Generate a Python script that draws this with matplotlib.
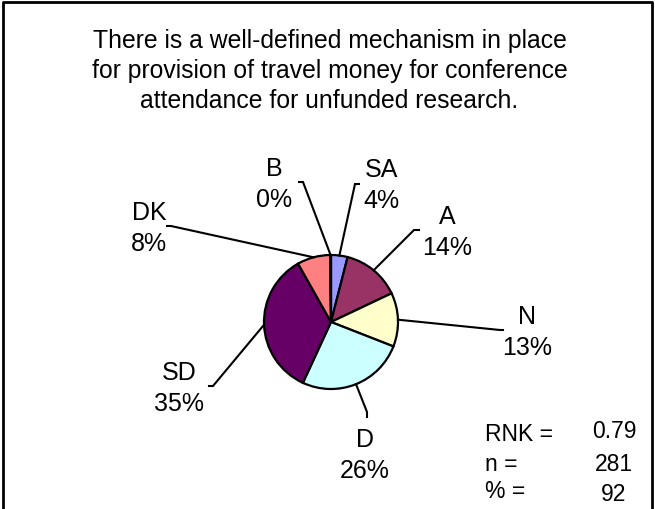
import numpy as np
import matplotlib
matplotlib.use('Agg')
import matplotlib.pyplot as plt
from matplotlib.lines import Line2D

# survey answers, clockwise from 12 o'clock
categories = ["SA", "A", "N", "D", "SD", "DK", "B"]
shares = [4, 14, 13, 26, 35, 8, 0.2]
colors = ["#9999FF", "#993366", "#FFFFCC", "#CCFFFF", "#660066", "#FF8080", "#0066CC"]

title_lines = ["There is a well-defined mechanism in place",
               "for provision of travel money for conference",
               "attendance for unfunded research."]
stat_names = ["RNK =", "n =", "% ="]
stat_values = ["0.79", "281", "92"]

W, H = 655, 510
plt.rcParams['font.family'] = ['Liberation Sans', 'DejaVu Sans']

fig = plt.figure(figsize=(W / 100, H / 100), dpi=100)
ax = fig.add_axes([0, 0, 1, 1])


def Y(y):
    # image row -> axis y
    return H - y


cx, cy, r = 331, 323, 67
wedges, _ = ax.pie(shares, colors=colors, startangle=90, counterclock=False,
                   center=(cx, Y(cy)), radius=r, frame=True,
                   wedgeprops=dict(edgecolor='black', linewidth=1.6))
ax.set_xlim(0, W)
ax.set_ylim(0, H)
ax.set_aspect('equal')
ax.axis('off')

# label layout: (text x, first line y, elbow x, elbow y, tick dx, tick dy)
layout = {
    "SA": (381, 170, 355, 185, 4, 0),
    "A":  (447, 217, 414, 231, 5, 0),
    "N":  (527, 317, 500, 331, 3, 0),
    "D":  (365, 440, 367, 413, 0, 5),
    "SD": (179, 373, 213, 387, -4, 0),
    "DK": (149, 213, 171, 227, -4, 0),
    "B":  (274, 169, 303, 183, -4, 0),
}
total = sum(shares)
for w, name, val in zip(wedges, categories, shares):
    tx, ty, ex, ey, dx, dy = layout[name]
    mid = np.deg2rad((w.theta1 + w.theta2) / 2)
    px = cx + r * np.cos(mid)
    py = Y(cy) + r * np.sin(mid)
    ax.add_line(Line2D([px, ex, ex + dx], [py, Y(ey), Y(ey + dy)],
                       color='black', lw=1.5, solid_joinstyle='miter'))
    pct = int(round(100 * val / total))
    ax.text(tx, Y(ty), name, ha='center', va='center', fontsize=18)
    ax.text(tx, Y(ty + 31), f"{pct}%", ha='center', va='center', fontsize=18)

for i, line in enumerate(title_lines):
    ax.text(W / 2 + 2, Y(48 + 30 * i), line, ha='center', va='baseline',
            fontsize=17.8)

name_rows = [435, 465, 492]
value_rows = [432, 465, 495]
for nm, v, yn, yv in zip(stat_names, stat_values, name_rows, value_rows):
    ax.text(485, Y(yn), nm, ha='left', va='center', fontsize=16.5)
    ax.text(614, Y(yv), v, ha='center', va='center', fontsize=16.5)

# frame: left, top, right edges (bottom is cut off)
ax.add_line(Line2D([3, 3, 652, 652], [0, H - 3, H - 3, 0], color='black', lw=2))

fig.savefig('out.png', dpi=100)
